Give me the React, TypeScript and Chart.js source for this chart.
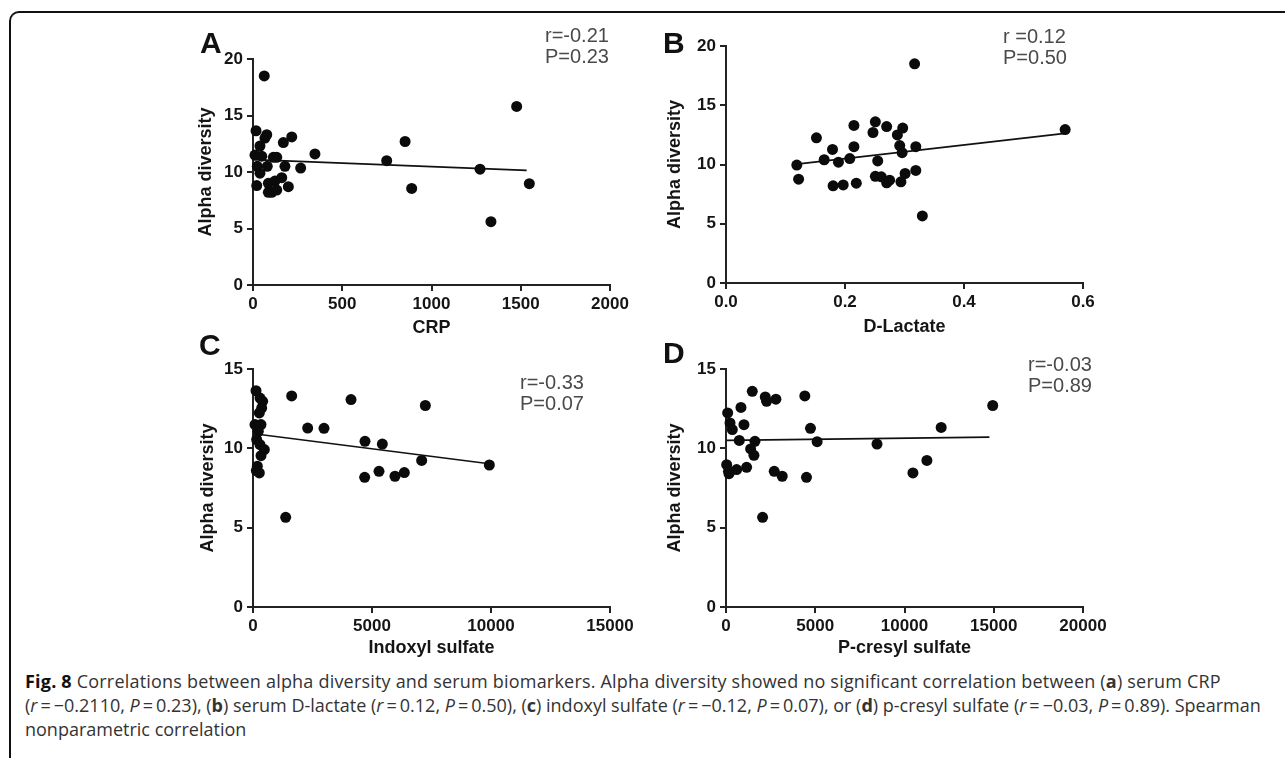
import React, { useEffect, useRef } from "react";
import { Chart, registerables } from "chart.js";
Chart.register(...registerables);

// ---------- data ----------
const crpX = [63, 1477, 17, 77, 67, 217, 170, 852, 39, 11, 49, 114, 133, 347, 749, 24, 80, 179, 267, 1272, 39, 161, 123, 86, 21, 198, 1548, 889, 86, 105, 133, 1333];
const crpY = [18.5, 15.8, 13.65, 13.3, 13.0, 13.1, 12.6, 12.7, 12.3, 11.5, 11.4, 11.3, 11.3, 11.6, 11.0, 10.5, 10.5, 10.5, 10.35, 10.25, 9.9, 9.5, 9.2, 9.0, 8.8, 8.7, 8.97, 8.55, 8.2, 8.2, 8.4, 5.6];
const crpFitX = [5, 1533];
const crpFitY = [11.09, 10.15];

const dlacX = [0.317, 0.152, 0.215, 0.251, 0.247, 0.27, 0.297, 0.288, 0.179, 0.215, 0.292, 0.319, 0.296, 0.165, 0.189, 0.208, 0.255, 0.119, 0.122, 0.319, 0.301, 0.251, 0.261, 0.275, 0.27, 0.294, 0.18, 0.197, 0.219, 0.33, 0.57];
const dlacY = [18.5, 12.25, 13.3, 13.6, 12.7, 13.2, 13.07, 12.5, 11.27, 11.5, 11.6, 11.5, 11.0, 10.4, 10.2, 10.5, 10.3, 9.95, 8.76, 9.5, 9.24, 9.0, 8.96, 8.68, 8.45, 8.54, 8.2, 8.28, 8.42, 5.66, 12.95];
const dlacFitX = [0.119, 0.57];
const dlacFitY = [10.03, 12.63];

const indX = [1625, 4118, 7241, 126, 294, 406, 364, 266, 2297, 2983, 84, 336, 224, 4706, 5434, 154, 294, 476, 336, 7087, 9930, 182, 266, 4692, 5294, 5966, 6358, 1373, 140];
const indY = [13.3, 13.07, 12.7, 13.63, 13.17, 12.96, 12.54, 12.23, 11.28, 11.26, 11.5, 11.5, 11.07, 10.44, 10.27, 10.55, 10.23, 9.92, 9.54, 9.24, 8.95, 8.87, 8.45, 8.17, 8.55, 8.24, 8.47, 5.65, 8.6];
const indFitX = [42, 9930];
const indFitY = [10.92, 9.03];

const pcsX = [1472, 2199, 2273, 2795, 4416, 14943, 93, 838, 224, 354, 1006, 4733, 12055, 745, 1621, 5105, 8459, 1379, 1565, 11254, 37, 168, 596, 1155, 2702, 3149, 4509, 10472, 2050, 140];
const pcsY = [13.59, 13.24, 12.96, 13.1, 13.3, 12.7, 12.23, 12.58, 11.6, 11.18, 11.49, 11.26, 11.32, 10.5, 10.44, 10.42, 10.27, 9.96, 9.56, 9.24, 8.97, 8.4, 8.66, 8.8, 8.55, 8.24, 8.17, 8.45, 5.65, 8.55];
const pcsFitX = [37, 14757];
const pcsFitY = [10.5, 10.71];

// axis ranges / tick steps: [min, max, step]
const crpAxis = [0, 2000, 500];
const dlacAxis = [0, 0.6, 0.2];
const indAxis = [0, 15000, 5000];
const pcsAxis = [0, 20000, 5000];
const yAxisAB = [0, 20, 5];
const yAxisCD = [0, 15, 5];

const yTitle = "Alpha diversity";
const stats = [
  ["r=-0.21", "P=0.23"],
  ["r =0.12", "P=0.50"],
  ["r=-0.33", "P=0.07"],
  ["r=-0.03", "P=0.89"],
];

const AXIS_FONT = "'Liberation Sans', Arial, sans-serif";

type PanelProps = {
  xs: number[];
  ys: number[];
  fx: number[];
  fy: number[];
  xAxis: number[];
  yAxis: number[];
  decimals: number;
  xTitle: string;
  left: number;
  top: number;
  width: number;
  height: number;
  yW: number;
  xH: number;
};

const PAD_RIGHT = 32;

function Panel(p: PanelProps) {
  const ref = useRef<HTMLCanvasElement | null>(null);
  useEffect(() => {
    if (!ref.current) return;
    const pts = p.xs.map((x, i) => ({ x, y: p.ys[i] }));
    const fit = p.fx.map((x, i) => ({ x, y: p.fy[i] }));
    const tickFont = { family: AXIS_FONT, weight: "bold" as const, size: 17 };
    const titleFont = { family: AXIS_FONT, weight: "bold" as const, size: 18 };
    const chart = new Chart(ref.current, {
      type: "scatter",
      data: {
        datasets: [
          {
            data: pts,
            backgroundColor: "#0b0b0b",
            borderWidth: 0,
            pointRadius: 5.5,
            clip: false,
            order: 1,
          } as any,
          {
            data: fit,
            showLine: true,
            borderColor: "#111",
            borderWidth: 1.7,
            pointRadius: 0,
            clip: false,
            order: 2,
          } as any,
        ],
      },
      options: {
        responsive: false,
        animation: false,
        devicePixelRatio: 1,
        layout: { padding: { top: 15, right: PAD_RIGHT, bottom: 0, left: 0 } },
        plugins: { legend: { display: false }, tooltip: { enabled: false } },
        scales: {
          x: {
            type: "linear",
            position: "bottom",
            min: p.xAxis[0],
            max: p.xAxis[1],
            afterFit: (s: any) => {
              s.height = p.xH;
            },
            ticks: {
              stepSize: p.xAxis[2],
              autoSkip: false,
              maxRotation: 0,
              padding: 3,
              color: "#151515",
              font: tickFont,
              callback: (v: any) => Number(v).toFixed(p.decimals),
            },
            grid: { drawOnChartArea: false, tickLength: 6, lineWidth: 2, color: "#222" },
            border: { display: true, color: "#222", width: 2 },
            title: { display: true, text: p.xTitle, color: "#151515", font: titleFont, padding: { top: 0, bottom: 4 } },
          },
          y: {
            type: "linear",
            position: "left",
            min: p.yAxis[0],
            max: p.yAxis[1],
            afterFit: (s: any) => {
              s.width = p.yW;
            },
            ticks: {
              stepSize: p.yAxis[2],
              padding: 4,
              color: "#151515",
              font: tickFont,
              callback: (v: any) => String(v),
            },
            grid: { drawOnChartArea: false, tickLength: 6, lineWidth: 2, color: "#222" },
            border: { display: true, color: "#222", width: 2 },
            title: { display: true, text: yTitle, color: "#151515", font: titleFont, padding: { top: 10, bottom: 0 } },
          },
        },
      } as any,
    });
    return () => chart.destroy();
  }, []);
  return (
    <canvas
      ref={ref}
      width={p.width}
      height={p.height}
      style={{ position: "absolute", left: p.left, top: p.top, width: p.width, height: p.height }}
    />
  );
}

const letterStyle = (left: number, top: number): React.CSSProperties => ({
  position: "absolute",
  left,
  top,
  fontFamily: AXIS_FONT,
  fontWeight: "bold",
  fontSize: 30,
  lineHeight: "30px",
  color: "#111",
});

const statStyle = (left: number, top: number): React.CSSProperties => ({
  position: "absolute",
  left,
  top,
  fontFamily: AXIS_FONT,
  fontSize: 20,
  lineHeight: "21px",
  color: "#4a4a4a",
  whiteSpace: "pre",
});

const capLine = (top: number, spacing = 0): React.CSSProperties => ({
  position: "absolute",
  left: 25,
  top,
  fontFamily: "'Open Sans', 'Noto Sans', sans-serif",
  fontSize: 18,
  lineHeight: "24px",
  letterSpacing: spacing,
  color: "#333",
  whiteSpace: "nowrap",
});

const T = "\u2009";

export default function App() {
  return (
    <div style={{ position: "absolute", left: 0, top: 0, width: 1285, height: 758, overflow: "hidden", background: "#fff" }}>
      <div
        style={{
          position: "absolute",
          left: 9,
          top: 11,
          width: 1320,
          height: 800,
          borderLeft: "2px solid #111",
          borderTop: "2px solid #111",
          borderTopLeftRadius: 10,
        }}
      />
      <Panel xs={crpX} ys={crpY} fx={crpFitX} fy={crpFitY} xAxis={crpAxis} yAxis={yAxisAB} decimals={0} xTitle="CRP" left={185} top={44} width={425 + PAD_RIGHT} height={299} yW={68} xH={58} />
      <Panel xs={dlacX} ys={dlacY} fx={dlacFitX} fy={dlacFitY} xAxis={dlacAxis} yAxis={yAxisAB} decimals={1} xTitle="D-Lactate" left={654} top={31} width={429 + PAD_RIGHT} height={311} yW={72} xH={59} />
      <Panel xs={indX} ys={indY} fx={indFitX} fy={indFitY} xAxis={indAxis} yAxis={yAxisCD} decimals={0} xTitle="Indoxyl sulfate" left={187} top={354} width={423 + PAD_RIGHT} height={309} yW={66} xH={56} />
      <Panel xs={pcsX} ys={pcsY} fx={pcsFitX} fy={pcsFitY} xAxis={pcsAxis} yAxis={yAxisCD} decimals={0} xTitle="P-cresyl sulfate" left={654} top={354} width={429 + PAD_RIGHT} height={309} yW={72} xH={56} />

      <div style={letterStyle(200, 28)}>A</div>
      <div style={letterStyle(663, 28)}>B</div>
      <div style={letterStyle(199, 330)}>C</div>
      <div style={letterStyle(663, 338)}>D</div>

      <div style={statStyle(545, 25)}>{stats[0][0]}<br />{stats[0][1]}</div>
      <div style={statStyle(1003, 26)}>{stats[1][0]}<br />{stats[1][1]}</div>
      <div style={statStyle(520, 372)}>{stats[2][0]}<br />{stats[2][1]}</div>
      <div style={statStyle(1028, 354)}>{stats[3][0]}<br />{stats[3][1]}</div>

      <div style={capLine(669, 0.2)}>
        <b style={{ color: "#111" }}>Fig. 8</b> Correlations between alpha diversity and serum biomarkers. Alpha diversity showed no significant correlation between (<b>a</b>) serum CRP
      </div>
      <div style={capLine(693)}>
        (<i>r</i>{T}={T}−0.2110, <i>P</i>{T}={T}0.23), (<b>b</b>) serum D-lactate (<i>r</i>{T}={T}0.12, <i>P</i>{T}={T}0.50), (<b>c</b>) indoxyl sulfate (<i>r</i>{T}={T}−0.12, <i>P</i>{T}={T}0.07), or (<b>d</b>) p-cresyl sulfate (<i>r</i>{T}={T}−0.03, <i>P</i>{T}={T}0.89). Spearman
      </div>
      <div style={capLine(717)}>nonparametric correlation</div>
    </div>
  );
}
